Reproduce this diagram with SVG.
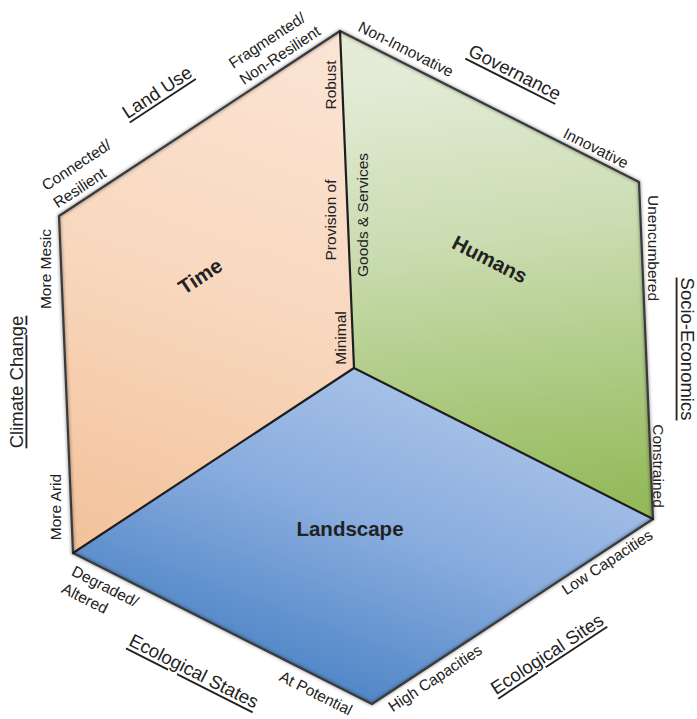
<svg xmlns="http://www.w3.org/2000/svg" width="697" height="719" viewBox="0 0 697 719">
  <style>
    text { font-family: "Liberation Sans", Arial, sans-serif; fill: #222; dominant-baseline: central; }
    .lbl { font-size: 15.5px; }
    .ttl { font-size: 18.5px; text-decoration: underline; text-anchor: middle; }
    .face { font-size: 20.5px; font-weight: bold; text-anchor: middle; }
    .mid { text-anchor: middle; }
    .edge { fill: none; stroke: #3a3a3a; stroke-width: 2.2; stroke-linejoin: round; }
    .inner { fill: none; stroke: #1e1e1e; stroke-width: 2.2; stroke-linecap: round; }
    .shadow { fill: none; stroke: #000; stroke-opacity: 0.3; stroke-width: 4; filter: url(#blur); }
  </style>
  <defs>
    <filter id="blur" x="-10%" y="-10%" width="120%" height="120%"><feGaussianBlur stdDeviation="1.6"/></filter>
    <linearGradient id="gTime" gradientUnits="userSpaceOnUse" x1="300" y1="40" x2="120" y2="560">
      <stop offset="0" stop-color="#FBE4D4"/>
      <stop offset="0.5" stop-color="#F8D7BD"/>
      <stop offset="1" stop-color="#F3C29B"/>
    </linearGradient>
    <linearGradient id="gHum" gradientUnits="userSpaceOnUse" x1="480" y1="60" x2="530" y2="510">
      <stop offset="0" stop-color="#E4ECD8"/>
      <stop offset="0.4" stop-color="#CADCB0"/>
      <stop offset="1" stop-color="#94BA5A"/>
    </linearGradient>
    <linearGradient id="gLand" gradientUnits="userSpaceOnUse" x1="420" y1="380" x2="300" y2="700">
      <stop offset="0" stop-color="#A8C2E8"/>
      <stop offset="0.45" stop-color="#88ACDE"/>
      <stop offset="1" stop-color="#4A82C4"/>
    </linearGradient>
  </defs>

  <g id="time">
    <polygon points="59,216 340,31 354,368 73,553" fill="url(#gTime)"/>
    <text class="face" transform="translate(200,276) rotate(-33.4)">Time</text>
  </g>
  <g id="humans">
    <polygon points="340,31 639,182 653,519 354,368" fill="url(#gHum)"/>
    <text class="face" transform="translate(490,259) rotate(26.8)">Humans</text>
  </g>
  <g id="landscape">
    <polygon points="354,368 653,519 372,704 73,553" fill="url(#gLand)"/>
    <text class="face" x="350" y="528">Landscape</text>
  </g>

  <g id="connectors">
    <polygon class="shadow" points="59,216 340,31 639,182 653,519 372,704 73,553"/>
    <polygon class="edge" points="59,216 340,31 639,182 653,519 372,704 73,553"/>
    <path class="inner" d="M340,31 L354,368 M354,368 L653,519 M354,368 L73,553"/>
  </g>

  <g id="land-use">
    <text class="lbl" transform="translate(230.2,64.3) rotate(-33.4)">Fragmented/</text>
    <text class="lbl" transform="translate(240.9,80.6) rotate(-33.4)">Non-Resilient</text>
    <text class="ttl" transform="translate(157,92) rotate(-33.4)">Land Use</text>
    <text class="lbl" transform="translate(43.2,186.6) rotate(-33.4)">Connected/</text>
    <text class="lbl" transform="translate(54.6,204) rotate(-33.4)">Resilient</text>
  </g>

  <g id="governance">
    <text class="lbl mid" transform="translate(406,49) rotate(26.8)">Non-Innovative</text>
    <text class="ttl" transform="translate(515,72) rotate(26.8)">Governance</text>
    <text class="lbl mid" transform="translate(596,148) rotate(26.8)">Innovative</text>
  </g>

  <g id="socio-economics">
    <text class="lbl mid" transform="translate(653,248) rotate(90)">Unencumbered</text>
    <text class="lbl mid" transform="translate(658,466) rotate(90)">Constrained</text>
    <text class="ttl" transform="translate(687,349) rotate(90)">Socio-Economics</text>
  </g>

  <g id="climate-change">
    <text class="lbl mid" transform="translate(45,269) rotate(-90)">More Mesic</text>
    <text class="ttl" transform="translate(16,382) rotate(-90)">Climate Change</text>
    <text class="lbl mid" transform="translate(55,507) rotate(-90)">More Arid</text>
  </g>

  <g id="goods-services">
    <text class="lbl mid" transform="translate(330,85) rotate(-90)">Robust</text>
    <text class="lbl mid" transform="translate(330,220) rotate(-90)">Provision of</text>
    <text class="lbl mid" transform="translate(362,215) rotate(-90)">Goods &amp; Services</text>
    <text class="lbl mid" transform="translate(340,338) rotate(-90)">Minimal</text>
  </g>

  <g id="ecological-states">
    <text class="lbl" transform="translate(72.9,569.8) rotate(26.8)">Degraded/</text>
    <text class="lbl" transform="translate(63,587.2) rotate(26.8)">Altered</text>
    <text class="ttl" transform="translate(194,671) rotate(26.8)">Ecological States</text>
    <text class="lbl mid" transform="translate(316,693) rotate(26.8)">At Potential</text>
  </g>

  <g id="ecological-sites">
    <text class="lbl mid" transform="translate(435,678) rotate(-33.4)">High Capacities</text>
    <text class="ttl" transform="translate(547,654) rotate(-33.4)">Ecological Sites</text>
    <text class="lbl mid" transform="translate(607,562) rotate(-33.4)">Low Capacities</text>
  </g>
</svg>
